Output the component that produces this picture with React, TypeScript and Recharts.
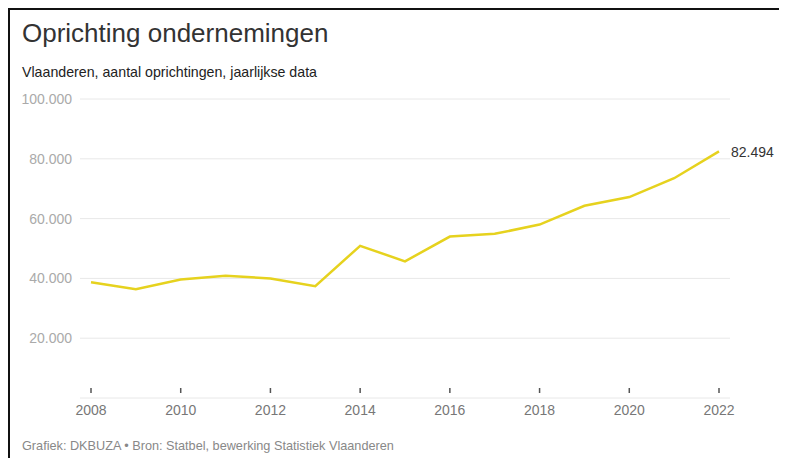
import { LineChart, Line, XAxis, YAxis, CartesianGrid } from 'recharts';

const years = [2008, 2009, 2010, 2011, 2012, 2013, 2014, 2015, 2016, 2017, 2018, 2019, 2020, 2021, 2022];
const oprichtingen = [38700, 36400, 39600, 40900, 40000, 37400, 50900, 45700, 54000, 54900, 58000, 64300, 67200, 73500, 82494];
const xTicks = [2008, 2010, 2012, 2014, 2016, 2018, 2020, 2022];
const yTicks = [20000, 40000, 60000, 80000, 100000];

const data = years.map((year, i) => ({ year, value: oprichtingen[i] }));

const FONT = '"Liberation Sans", Arial, Helvetica, sans-serif';

const fmt = (v: number) => String(Math.round(v)).replace(/\B(?=(\d{3})+(?!\d))/g, '.');

const pageCss =
  'html,body{overflow:hidden;scrollbar-width:none}' +
  '::-webkit-scrollbar{display:none;width:0;height:0}';

const YearTick = (props: any) => {
  const { x, y, payload } = props;
  return (
    <g>
      <line x1={x} x2={x} y1={y - 10} y2={y - 5} stroke="#555" strokeWidth={1.5} />
      <text x={x} y={y + 17} textAnchor="middle" fill="#777" fontSize={14} fontFamily={FONT}>
        {payload.value}
      </text>
    </g>
  );
};

// label only on the last point (2022)
const EndLabel = (props: any) => {
  const { x, y, index, value } = props;
  if (index !== data.length - 1) return null;
  return (
    <text x={x + 12} y={y + 6} fill="#333" fontSize={14} fontFamily={FONT}>
      {fmt(value)}
    </text>
  );
};

export default function App() {
  return (
    <div
      style={{
        position: 'relative',
        width: 777,
        height: 448,
        borderTop: '2px solid #111',
        borderLeft: '2px solid #111',
        fontFamily: FONT,
        background: '#fff',
      }}
    >
      <style>{pageCss}</style>
      <div style={{ position: 'absolute', left: 12, top: 10, fontSize: 26, lineHeight: '26px', color: '#333', whiteSpace: 'nowrap' }}>
        Oprichting ondernemingen
      </div>
      <div style={{ position: 'absolute', left: 12, top: 54.5, fontSize: 14.2, lineHeight: '14px', color: '#222', whiteSpace: 'nowrap' }}>
        Vlaanderen, aantal oprichtingen, jaarlijkse data
      </div>
      <div style={{ position: 'absolute', left: 0, top: 0 }}>
        <LineChart width={777} height={448} data={data} margin={{ top: 89, right: 57, bottom: 30, left: 0 }}>
          <CartesianGrid vertical={false} stroke="#e8e8e8" strokeWidth={1} />
          <XAxis
            dataKey="year"
            type="number"
            domain={[2008, 2022]}
            ticks={xTicks}
            padding={{ left: 11, right: 11 }}
            axisLine={false}
            tickLine={false}
            tickSize={0}
            tickMargin={0}
            height={30}
            tick={<YearTick />}
            interval={0}
          />
          <YAxis
            domain={[0, 100000]}
            ticks={yTicks}
            width={70}
            axisLine={false}
            tickLine={false}
            tickSize={6}
            tickMargin={2}
            tickFormatter={fmt}
            tick={{ fill: '#aaa', fontSize: 14, fontFamily: FONT }}
            interval={0}
          />
          <Line
            type="linear"
            dataKey="value"
            stroke="#e6d21e"
            strokeWidth={2.5}
            dot={false}
            isAnimationActive={false}
            label={<EndLabel />}
          />
        </LineChart>
      </div>
      <div style={{ position: 'absolute', left: 12, top: 430, fontSize: 12.7, lineHeight: '13px', color: '#888', whiteSpace: 'nowrap' }}>
        Grafiek: DKBUZA • Bron: Statbel, bewerking Statistiek Vlaanderen
      </div>
    </div>
  );
}
